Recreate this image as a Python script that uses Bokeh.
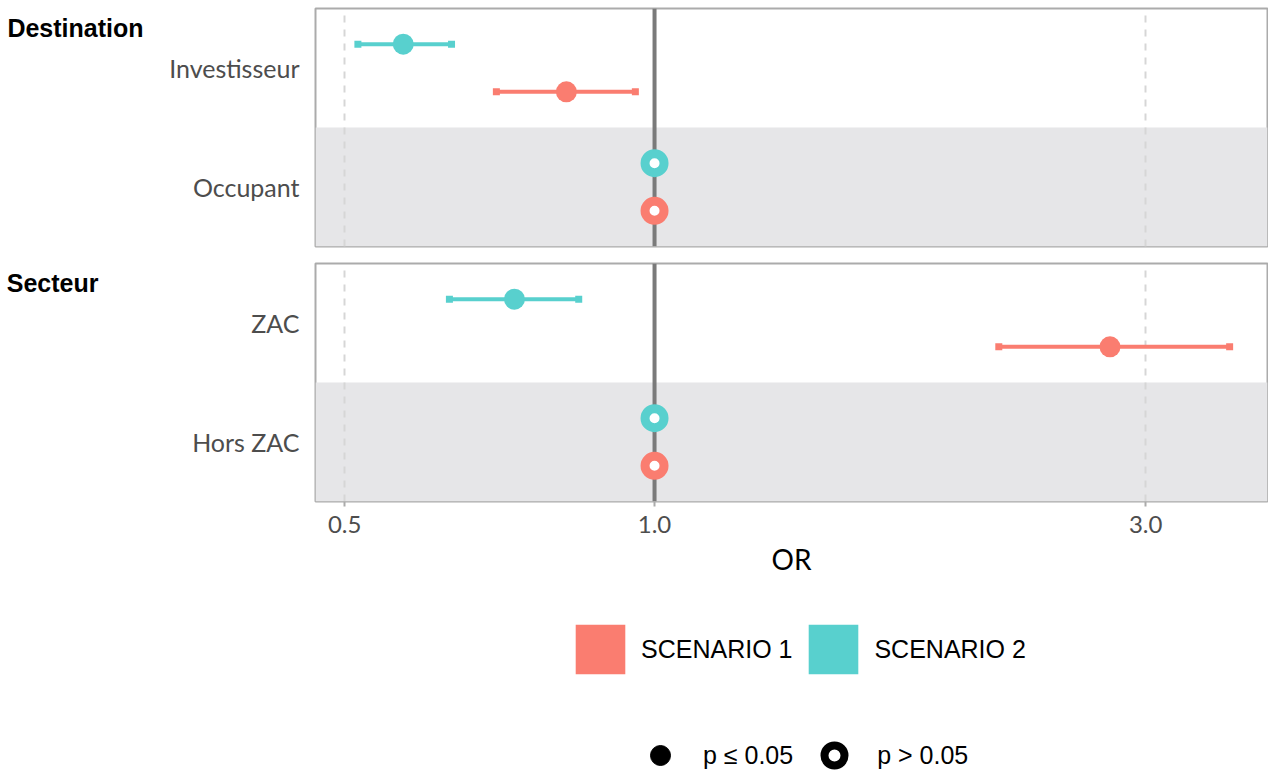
import math
from bokeh.plotting import figure
from bokeh.layouts import column
from bokeh.models import (ColumnDataSource, FixedTicker, NumeralTickFormatter, Span,
                          Legend, LegendItem, Range1d, FactorRange, CategoricalAxis)
from bokeh.transform import dodge
from bokeh.embed import file_html
from bokeh.resources import INLINE

NAN = float("nan")

# ---------------- data ----------------
facet_names = ["Destination", "Secteur"]
dest_levels = ["Investisseur", "Occupant"]      # Occupant = reference
sect_levels = ["ZAC", "Hors ZAC"]               # Hors ZAC = reference
scenario_names = ["SCENARIO 1", "SCENARIO 2"]
scenario_colors = ["#FA7D70", "#58D0CE"]

dest_or_s1 = [0.821, 1.0]
dest_lo_s1 = [0.702, NAN]
dest_hi_s1 = [0.958, NAN]
dest_sig_s1 = [True, False]

dest_or_s2 = [0.570, 1.0]
dest_lo_s2 = [0.515, NAN]
dest_hi_s2 = [0.635, NAN]
dest_sig_s2 = [True, False]

sect_or_s1 = [2.77, 1.0]
sect_lo_s1 = [2.16, NAN]
sect_hi_s1 = [3.62, NAN]
sect_sig_s1 = [True, False]

sect_or_s2 = [0.731, 1.0]
sect_lo_s2 = [0.632, NAN]
sect_hi_s2 = [0.844, NAN]
sect_sig_s2 = [True, False]

x_ticks = [0.5, 1.0, 3.0]
x_label = "OR"
sig_labels = ["p \u2264 0.05", "p > 0.05"]

X_START, X_END = 0.4684, 3.94
AXIS_FONT = "Lato"
W = 1268


def make_panel(levels, scen_data, facet, facet_standoff, height, top, bottom, show_x):
    p = figure(width=W, height=height, x_axis_type="log",
               x_range=Range1d(X_START, X_END),
               y_range=FactorRange(factors=list(reversed(levels))),
               output_backend="svg", toolbar_location=None,
               min_border_left=315, min_border_right=1,
               min_border_top=top, min_border_bottom=bottom)
    p.background_fill_color = "white"
    p.border_fill_color = "white"
    p.outline_line_color = "#ababab"
    p.outline_line_width = 2

    # grey band for reference level
    band = ColumnDataSource(dict(y=[levels[-1]], left=[X_START], right=[X_END]))
    p.hbar(y="y", left="left", right="right", height=1.0, source=band,
           fill_color="#e6e6e8", line_color=None, level="image")

    # grid
    p.xgrid.ticker = FixedTicker(ticks=x_ticks)
    p.xgrid.grid_line_color = "#d6d6d6"
    p.xgrid.grid_line_width = 2
    p.xgrid.grid_line_dash = "7 7"
    p.ygrid.visible = False

    p.add_layout(Span(location=1.0, dimension="height", line_color="#7a7a7a",
                      line_width=4, level="underlay"))

    offsets = [-0.2, 0.2]
    for (orv, lo, hi, sig), color, off in zip(scen_data, scenario_colors, offsets):
        or_sig = [v if s else NAN for v, s in zip(orv, sig)]
        or_ns = [v if not s else NAN for v, s in zip(orv, sig)]
        src = ColumnDataSource(dict(cat=levels, lo=lo, hi=hi, or_sig=or_sig, or_ns=or_ns))
        yy = dodge("cat", off, range=p.y_range)
        p.segment(x0="lo", x1="hi", y0=yy, y1=yy, source=src,
                  line_color=color, line_width=4)
        p.scatter(x="lo", y=yy, source=src, marker="square", size=7,
                  fill_color=color, line_color=None)
        p.scatter(x="hi", y=yy, source=src, marker="square", size=7,
                  fill_color=color, line_color=None)
        p.scatter(x="or_sig", y=yy, source=src, marker="circle", size=21,
                  fill_color=color, line_color=None)
        p.scatter(x="or_ns", y=yy, source=src, marker="circle", size=19,
                  fill_color="white", line_color=color, line_width=9)

    # y axis (levels)
    p.yaxis.major_label_text_font = AXIS_FONT
    p.yaxis.major_label_text_font_size = "25px"
    p.yaxis.major_label_text_color = "#4d4d4d"
    p.yaxis.major_tick_line_color = None
    p.yaxis.major_tick_out = 0
    p.yaxis.major_tick_in = 0
    p.yaxis.minor_tick_line_color = None
    p.yaxis.axis_line_color = None
    p.yaxis.major_label_standoff = 16

    # facet strip label: outer categorical axis whose top slot holds the facet name
    slots = [" " * k for k in range(1, 6)] + [facet]
    p.extra_y_ranges = {"facet": FactorRange(factors=slots)}
    fax = CategoricalAxis(y_range_name="facet",
                          axis_line_color=None, major_tick_line_color=None,
                          minor_tick_line_color=None, major_tick_out=0, major_tick_in=0,
                          minor_tick_out=0, minor_tick_in=0,
                          major_label_standoff=facet_standoff,
                          major_label_text_font="Liberation Sans",
                          major_label_text_font_size="25px",
                          major_label_text_font_style="bold",
                          major_label_text_color="black")
    p.add_layout(fax, "left")

    # x axis
    p.xaxis.ticker = FixedTicker(ticks=x_ticks)
    p.xaxis.formatter = NumeralTickFormatter(format="0.0")
    p.xaxis.axis_line_color = None
    p.xaxis.major_tick_line_color = "#ababab"
    p.xaxis.major_tick_line_width = 2
    p.xaxis.major_tick_out = 5
    p.xaxis.major_tick_in = 0
    p.xaxis.minor_tick_line_color = None
    p.xaxis.major_label_text_font = AXIS_FONT
    p.xaxis.major_label_text_font_size = "24px"
    p.xaxis.major_label_text_color = "#4d4d4d"
    p.xaxis.major_label_standoff = 9
    if show_x:
        p.xaxis.axis_label = x_label
        p.xaxis.axis_label_text_font = AXIS_FONT
        p.xaxis.axis_label_text_font_size = "28px"
        p.xaxis.axis_label_text_font_style = "normal"
        p.xaxis.axis_label_text_color = "black"
        p.xaxis.axis_label_standoff = 6
    else:
        p.xaxis.visible = False
    return p


p1 = make_panel(dest_levels,
                [(dest_or_s1, dest_lo_s1, dest_hi_s1, dest_sig_s1),
                 (dest_or_s2, dest_lo_s2, dest_hi_s2, dest_sig_s2)],
                facet_names[0], 23, height=255, top=8, bottom=9, show_x=False)
p2 = make_panel(sect_levels,
                [(sect_or_s1, sect_lo_s1, sect_hi_s1, sect_sig_s1),
                 (sect_or_s2, sect_lo_s2, sect_hi_s2, sect_sig_s2)],
                facet_names[1], 91, height=341, top=8, bottom=95, show_x=True)

# legend figure
p3 = figure(width=W, height=184, x_range=(0, 1), y_range=(0, 1),
            x_axis_location=None, y_axis_location=None,
            output_backend="svg", toolbar_location=None,
            min_border_left=315, min_border_right=1, min_border_top=0, min_border_bottom=0)
p3.outline_line_color = None
p3.grid.visible = False

# hidden key renderers (only their legend glyphs are shown)
color_items = []
for name, color in zip(scenario_names, scenario_colors):
    r = p3.quad(left=[0], right=[0], top=[0], bottom=[0], fill_color=color,
                line_color=None, visible=False)
    color_items.append(LegendItem(label=name, renderers=[r]))
r_sig = p3.scatter(x=[0], y=[0], marker="circle", fill_color="black",
                   line_color="black", line_width=1, visible=False)
r_ns = p3.scatter(x=[0], y=[0], marker="circle", fill_color="white",
                  line_color="black", line_width=8, visible=False)
shape_items = [LegendItem(label=sig_labels[0], renderers=[r_sig]),
               LegendItem(label=sig_labels[1], renderers=[r_ns])]

leg1 = Legend(items=color_items, orientation="horizontal", location=(254, 100),
              glyph_width=62, glyph_height=62, label_standoff=10, spacing=10,
              padding=0, margin=0, border_line_color=None, background_fill_alpha=0,
              label_text_font="Liberation Sans", label_text_font_size="25px",
              label_text_color="black")
leg2 = Legend(items=shape_items, orientation="horizontal", location=(320, 0),
              glyph_width=50, glyph_height=50, label_standoff=18, spacing=16,
              padding=0, margin=0, border_line_color=None, background_fill_alpha=0,
              label_text_font="Liberation Sans", label_text_font_size="25px",
              label_text_color="black")
p3.add_layout(leg1, "center")
p3.add_layout(leg2, "center")

layout = column(p1, p2, p3, spacing=0)
open("out.html", "w").write(file_html(layout, INLINE))
